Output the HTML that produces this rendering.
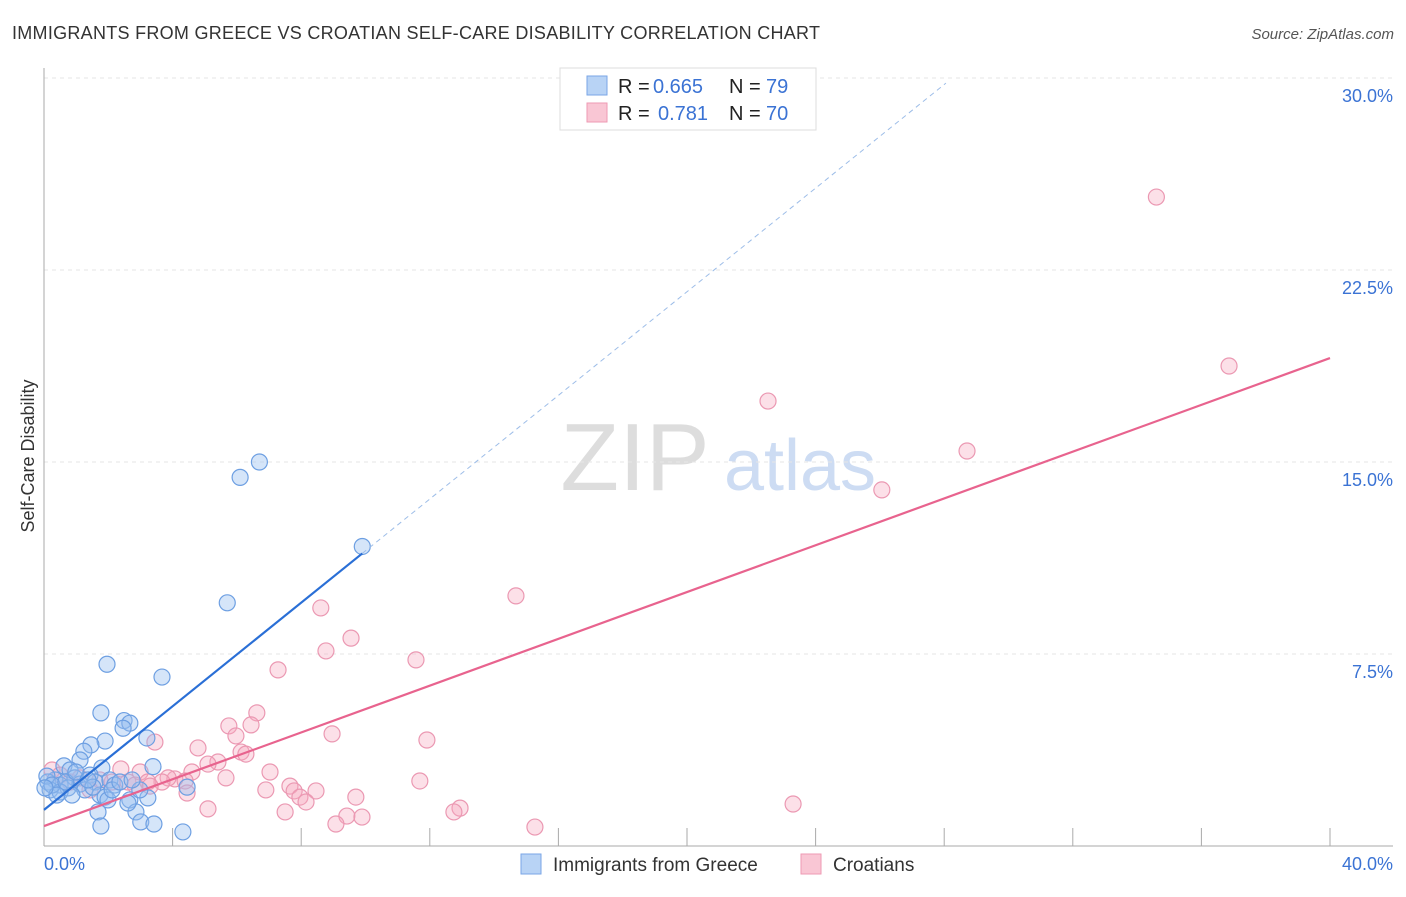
<!DOCTYPE html>
<html><head><meta charset="utf-8"><style>
body{margin:0;background:#fff;font-family:"Liberation Sans",sans-serif}
svg text{font-family:"Liberation Sans",sans-serif}
</style></head><body>
<svg id="c" width="1406" height="892" xmlns="http://www.w3.org/2000/svg">
<text x="12" y="39" font-size="18" fill="#333" textLength="808">IMMIGRANTS FROM GREECE VS CROATIAN SELF-CARE DISABILITY CORRELATION CHART</text>
<text x="1394" y="39" font-size="15" fill="#555" font-style="italic" text-anchor="end">Source: ZipAtlas.com</text>
<text x="635" y="490" font-size="96" fill="#ddd" font-family="Liberation Serif" text-anchor="middle">ZIP</text>
<text x="800" y="490" font-size="72" fill="#cddcf3" text-anchor="middle">atlas</text>
<text transform="translate(34,456) rotate(-90)" font-size="18" fill="#333" text-anchor="middle">Self-Care Disability</text>
<g id="grid"></g><g id="pts"></g><g id="lines"></g>
<g>
<rect x="560" y="68" width="256" height="62" fill="#fff" stroke="#ddd"/>
<rect x="587" y="76" width="20" height="19" fill="#b8d3f5" stroke="#7aa6e6"/>
<rect x="587" y="103" width="20" height="19" fill="#f9c6d4" stroke="#ee9ab3"/>
<text x="618" y="93" font-size="20" fill="#222">R =</text>
<text x="653" y="93" font-size="20" fill="#3b73d4">0.665</text>
<text x="729" y="93" font-size="20" fill="#222">N =</text>
<text x="766" y="93" font-size="20" fill="#3b73d4">79</text>
<text x="618" y="120" font-size="20" fill="#222">R =</text>
<text x="658" y="120" font-size="20" fill="#3b73d4">0.781</text>
<text x="729" y="120" font-size="20" fill="#222">N =</text>
<text x="766" y="120" font-size="20" fill="#3b73d4">70</text>
</g>
<g>
<rect x="521" y="854" width="20" height="20" fill="#b8d3f5" stroke="#7aa6e6"/>
<text x="553" y="871" font-size="19" fill="#333">Immigrants from Greece</text>
<rect x="801" y="854" width="20" height="20" fill="#f9c6d4" stroke="#ee9ab3"/>
<text x="833" y="871" font-size="19" fill="#333">Croatians</text>
</g>
</svg>
<script>
const yTicks=[7.5,15,22.5,30];
const xTickLabels=["0.0%","40.0%"];
const greeceX=[6.7,6.1,9.9,5.7,1.96,3.67,1.77,2.49,2.67,2.46,1.9,1.46,3.2,1.24,3.39,1.8,1.12,0.62,0.81,1.43,0.96,0.34,0.12,0.5,0.19,0.75,1.12,1.59,2.05,2.2,1.27,0.5,0.87,1.74,1.9,1.99,2.67,1.68,2.86,3.23,3.01,4.45,2.61,1.77,3.42,4.32,0.09,0.25,0.68,0.99,1.52,1.37,2.12,2.36,0.4,0.03,2.98,2.74];
const greeceY=[15.0,14.4,11.7,9.5,7.1,6.6,5.2,4.9,4.8,4.6,4.1,3.95,4.22,3.7,3.1,3.05,3.36,3.13,2.97,2.77,2.66,2.58,2.5,2.38,2.19,2.27,2.42,2.5,2.58,2.38,2.19,2.11,1.99,1.99,1.91,1.8,1.8,1.33,1.33,1.88,0.94,2.3,1.68,0.78,0.86,0.55,2.73,2.38,2.5,2.89,2.3,2.58,2.19,2.5,1.99,2.27,2.19,2.58];
const croatX=[34.6,36.86,22.52,28.71,26.06,14.68,8.61,9.55,8.77,11.57,7.28,6.62,6.44,5.75,5.97,8.96,11.91,3.45,4.79,6.13,6.28,5.41,5.1,4.6,5.66,7.03,2.99,2.39,4.07,4.39,11.69,3.86,3.67,3.23,2.12,1.74,6.9,7.65,7.78,8.46,4.45,7.96,8.15,9.7,5.1,7.5,12.94,12.75,9.42,9.89,9.08,15.27,23.3,2.61,0.25,0.5,0.81,1.12,1.43,2.83,3.3];
const croatY=[25.35,18.75,17.38,15.43,13.91,9.77,9.3,8.12,7.62,7.27,6.88,5.2,4.73,4.69,4.3,4.38,4.14,4.06,3.83,3.67,3.59,3.28,3.2,2.89,2.66,2.89,2.89,3.01,2.62,2.54,2.54,2.66,2.5,2.5,2.5,2.58,2.19,2.34,2.15,2.15,2.07,1.91,1.72,1.91,1.45,1.33,1.48,1.33,1.17,1.13,0.86,0.74,1.64,2.5,2.97,2.77,2.5,2.66,2.19,2.38,2.34];
const greeceTrend=[1.41,1.012];
const croatTrend=[0.78,0.457];
const X=v=>44+v*32.15, Y=v=>846-v*25.6;
const NS="http://www.w3.org/2000/svg";
function mk(t,a,p){const e=document.createElementNS(NS,t);for(const k in a)e.setAttribute(k,a[k]);p.appendChild(e);return e;}
const grid=document.getElementById('grid');
yTicks.forEach(t=>{
 const l=mk('line',{x1:44,x2:1393,y1:Y(t),y2:Y(t),stroke:'#e6e6e6','stroke-dasharray':'4,4'},grid);
 
 
 const tx=mk('text',{x:1393,y:Y(t)+24,'font-size':18,fill:'#3b73d4','text-anchor':'end'},grid);
 tx.textContent=t.toFixed(1)+'%';
 
 
});
const ax=mk('line',{x1:44,x2:44,y1:68,y2:846,stroke:'#aaa'},grid);


const bx=mk('line',{x1:44,x2:1393,y1:846,y2:846,stroke:'#aaa'},grid);


for(let i=1;i<=10;i++){const tk=mk('line',{x1:X(i*4),x2:X(i*4),y1:828,y2:846,stroke:'#aaa'},grid);
 
 }
const xl0=mk('text',{x:44,y:870,'font-size':18,fill:'#3b73d4'},grid);xl0.textContent=xTickLabels[0];


const xl1=mk('text',{x:1393,y:870,'font-size':18,fill:'#3b73d4','text-anchor':'end'},grid);xl1.textContent=xTickLabels[1];


const pts=document.getElementById('pts');
croatX.forEach((x,i)=>{const c=mk('circle',{cx:X(x),cy:Y(croatY[i]),r:8,fill:'rgba(245,165,190,0.35)',stroke:'#eb98b2','stroke-width':1.2},pts);
 
 });
greeceX.forEach((x,i)=>{const c=mk('circle',{cx:X(x),cy:Y(greeceY[i]),r:8,fill:'rgba(150,190,240,0.4)',stroke:'#6d9fe2','stroke-width':1.2},pts);
 
 });
const lines=document.getElementById('lines');
const g=(x)=>greeceTrend[0]+greeceTrend[1]*x, p=(x)=>croatTrend[0]+croatTrend[1]*x;
const l1=mk('line',{x1:X(0),y1:Y(g(0)),x2:X(9.9),y2:Y(g(9.9)),stroke:'#2a6fd6','stroke-width':2.2},lines);


const xe=(29.8-greeceTrend[0])/greeceTrend[1];
const l2=mk('line',{x1:X(9.9),y1:Y(g(9.9)),x2:X(xe),y2:Y(g(xe)),stroke:'#9dbde8','stroke-width':1,'stroke-dasharray':'5,4'},lines);


const l3=mk('line',{x1:X(0),y1:Y(p(0)),x2:X(40),y2:Y(p(40)),stroke:'#e8638e','stroke-width':2.2},lines);


</script>
</body></html>
